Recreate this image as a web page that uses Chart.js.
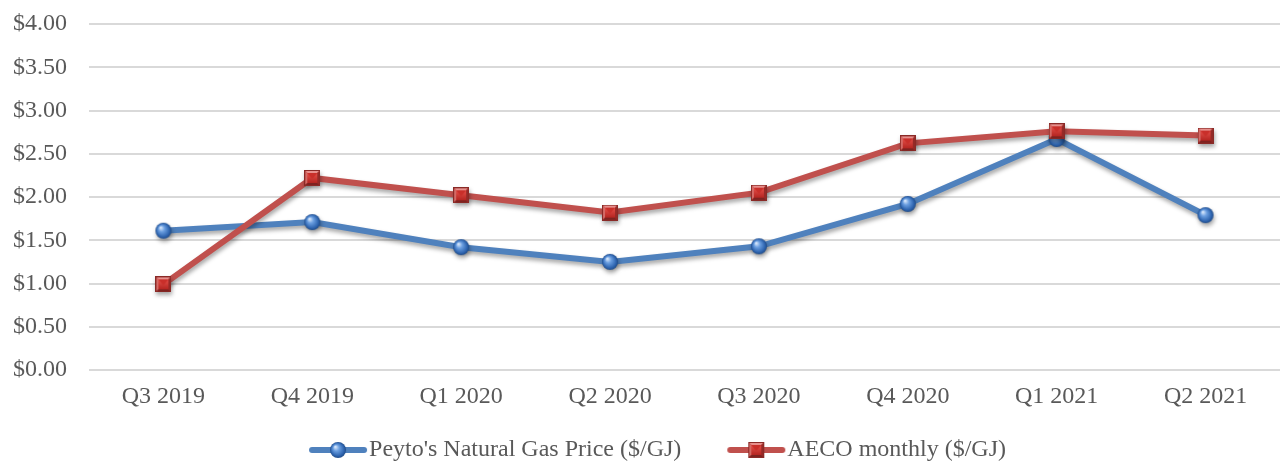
<!DOCTYPE html>
<html>
<head>
<meta charset="utf-8">
<script src="https://cdn.jsdelivr.net/npm/chart.js@4.4.1/dist/chart.umd.min.js"></script>
<style>
  html, body { margin: 0; padding: 0; background: #fff; overflow: hidden; }
</style>
</head>
<body>
<canvas id="grafico" width="1290" height="462"></canvas>
<script>
const trimestres = ['Q3 2019', 'Q4 2019', 'Q1 2020', 'Q2 2020', 'Q3 2020', 'Q4 2020', 'Q1 2021', 'Q2 2021'];
const precioPeyto = [1.61, 1.71, 1.42, 1.25, 1.43, 1.92, 2.67, 1.79];
const precioAeco = [0.99, 2.22, 2.02, 1.82, 2.05, 2.62, 2.76, 2.71];
const nombrePeyto = "Peyto's Natural Gas Price ($/GJ)";
const nombreAeco = 'AECO monthly ($/GJ)';

const AZUL = '#4f81bd';
const ROJO = '#c0504d';
const GRIS = '#595959';
const FUENTE = '"Liberation Serif", "Times New Roman", serif';

// marcador esfera azul
function crearEsfera(r) {
  const c = document.createElement('canvas');
  c.width = c.height = r * 2 + 2;
  const g = c.getContext('2d');
  const m = r + 1;
  const grad = g.createRadialGradient(m - r * 0.35, m - r * 0.4, 0.5, m, m, r);
  grad.addColorStop(0, '#d6e6fb');
  grad.addColorStop(0.35, '#6a9ee0');
  grad.addColorStop(0.8, '#2f65b0');
  grad.addColorStop(1, '#1f4b88');
  g.beginPath();
  g.arc(m, m, r, 0, Math.PI * 2);
  g.fillStyle = grad;
  g.fill();
  return c;
}

// marcador cuadrado rojo biselado
function crearCuadro(s) {
  const c = document.createElement('canvas');
  c.width = c.height = s;
  const g = c.getContext('2d');
  const b = 3;
  g.fillStyle = '#b3302c';
  g.fillRect(0, 0, s, s);
  const tri = (pts, col) => {
    g.beginPath();
    g.moveTo(pts[0], pts[1]);
    for (let i = 2; i < pts.length; i += 2) g.lineTo(pts[i], pts[i + 1]);
    g.closePath();
    g.fillStyle = col;
    g.fill();
  };
  tri([0, 0, s, 0, s - b, b, b, b], '#e7908d');
  tri([0, 0, b, b, b, s - b, 0, s], '#d46a66');
  tri([s, 0, s, s, s - b, s - b, s - b, b], '#962a27');
  tri([0, s, s, s, s - b, s - b, b, s - b], '#7e2220');
  const grad = g.createLinearGradient(0, b, 0, s - b);
  grad.addColorStop(0, '#e5504a');
  grad.addColorStop(1, '#b52521');
  g.fillStyle = grad;
  g.fillRect(b, b, s - 2 * b, s - 2 * b);
  tri([b, b, s - b, b, s / 2, s / 2 + 1], '#c92f2a');
  g.strokeStyle = '#8a2a27';
  g.lineWidth = 1;
  g.strokeRect(0.5, 0.5, s - 1, s - 1);
  return c;
}

// muestra de leyenda: linea + marcador, pegada al lado derecho de la imagen
function crearMuestra(color, marcador) {
  const c = document.createElement('canvas');
  c.width = 96; c.height = 20;
  const g = c.getContext('2d');
  const x0 = 37;
  g.strokeStyle = color;
  g.lineWidth = 6;
  g.lineCap = 'round';
  g.beginPath();
  g.moveTo(x0 + 3, 10);
  g.lineTo(x0 + 55, 10);
  g.stroke();
  g.drawImage(marcador, x0 + 29 - marcador.width / 2, 10 - marcador.height / 2);
  return c;
}

const esfera = crearEsfera(8);
const cuadro = crearCuadro(16);
const muestraAzul = crearMuestra(AZUL, esfera);
const muestraRoja = crearMuestra(ROJO, cuadro);

const sombra = {
  id: 'sombra',
  beforeDatasetDraw(chart) {
    const ctx = chart.ctx;
    ctx.save();
    ctx.shadowColor = 'rgba(0,0,0,0.35)';
    ctx.shadowBlur = 4;
    ctx.shadowOffsetX = 1;
    ctx.shadowOffsetY = 3;
  },
  afterDatasetDraw(chart) {
    chart.ctx.restore();
  }
};

new Chart(document.getElementById('grafico'), {
  type: 'line',
  data: {
    labels: trimestres,
    datasets: [
      {
        label: nombrePeyto,
        data: precioPeyto,
        borderColor: AZUL,
        backgroundColor: AZUL,
        borderWidth: 6,
        pointStyle: esfera,
        order: 1,
        tension: 0
      },
      {
        label: nombreAeco,
        data: precioAeco,
        borderColor: ROJO,
        backgroundColor: ROJO,
        borderWidth: 6,
        pointStyle: cuadro,
        order: 0,
        tension: 0
      }
    ]
  },
  options: {
    responsive: false,
    animation: false,
    devicePixelRatio: 1,
    layout: { padding: { left: 0, right: 1, top: 24, bottom: 0 } },
    plugins: {
      legend: {
        position: 'bottom',
        maxHeight: 44,
        labels: {
          usePointStyle: true,
          pointStyleWidth: 74,
          padding: 20,
          color: GRIS,
          font: { family: FUENTE, size: 24 },
          generateLabels(chart) {
            return [
              { text: nombrePeyto, pointStyle: muestraAzul, fontColor: GRIS, datasetIndex: 0, lineWidth: 0 },
              { text: nombreAeco, pointStyle: muestraRoja, fontColor: GRIS, datasetIndex: 1, lineWidth: 0 }
            ];
          }
        }
      },
      tooltip: { enabled: false }
    },
    scales: {
      x: {
        offset: true,
        grid: { display: false, drawTicks: false },
        border: { display: false },
        ticks: {
          color: GRIS,
          padding: 12,
          maxRotation: 0,
          font: { family: FUENTE, size: 24 }
        },
        afterFit(scale) { scale.height = 48; }
      },
      y: {
        min: 0,
        max: 4,
        grid: { color: '#d9d9d9', lineWidth: 2, drawTicks: false },
        border: { display: false },
        ticks: {
          stepSize: 0.5,
          color: GRIS,
          padding: 22,
          font: { family: FUENTE, size: 24 },
          callback: v => '$' + Number(v).toFixed(2)
        },
        afterFit(scale) {
          scale.width = 89;
          scale.paddingTop = 0;
          scale.paddingBottom = 0;
        }
      }
    }
  },
  plugins: [sombra]
});
</script>
</body>
</html>
